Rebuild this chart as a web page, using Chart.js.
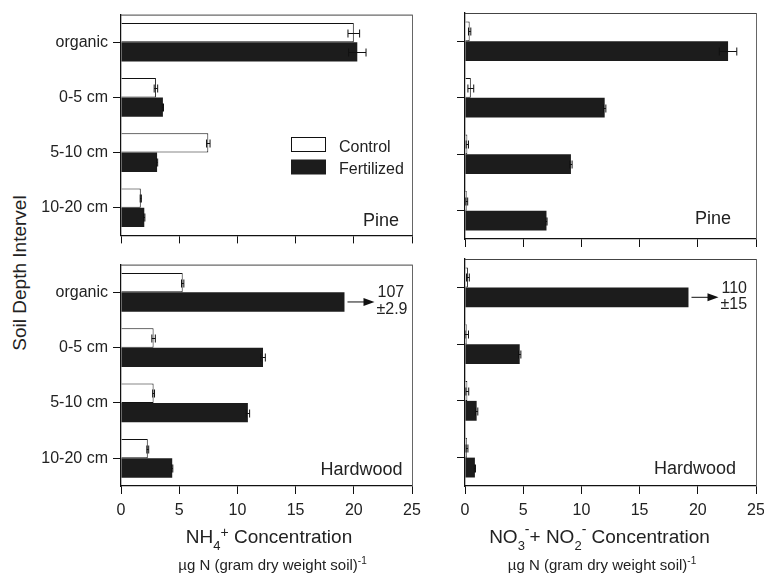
<!DOCTYPE html>
<html>
<head>
<meta charset="utf-8">
<script src="https://cdn.jsdelivr.net/npm/chart.js@4.4.1/dist/chart.umd.min.js"></script>
<style>
  html, body { margin: 0; padding: 0; background: #fff; width: 764px; height: 574px; overflow: hidden; }
  #wrap { position: relative; width: 764px; height: 574px; }
  canvas { position: absolute; }
  #ylab {
    position: absolute; left: 20px; top: 273px;
    transform: translate(-50%, -50%) rotate(-90deg);
    font: 19px "Liberation Sans", Arial, sans-serif; color: #222; white-space: nowrap;
  }
</style>
</head>
<body>
<div id="wrap">
  <div id="ylab">Soil Depth Intervel</div>
  <canvas id="tl" width="440" height="250" style="left:0;top:0"></canvas>
  <canvas id="tr" width="340" height="250" style="left:440px;top:0"></canvas>
  <canvas id="bl" width="440" height="324" style="left:0;top:250px"></canvas>
  <canvas id="br" width="340" height="324" style="left:440px;top:250px"></canvas>
</div>
<script>
const depths = ['organic', '0-5 cm', '5-10 cm', '10-20 cm']
const seriesNames = ['Control', 'Fertilized']
const xMax = 25
const xStep = 5

// pine, NH4+
const pineNH4Control = [20.0, 3.0, 7.5, 1.7]
const pineNH4ControlErr = [0.5, 0.15, 0.15, 0.05]
const pineNH4Fert = [20.3, 3.6, 3.1, 2.0]
const pineNH4FertErr = [0.75, 0.05, 0.05, 0.05]

// pine, NO3- + NO2-
const pineNO3Control = [0.4, 0.5, 0.2, 0.15]
const pineNO3ControlErr = [0.1, 0.25, 0.1, 0.08]
const pineNO3Fert = [22.6, 12.0, 9.1, 7.0]
const pineNO3FertErr = [0.75, 0.1, 0.1, 0.05]

// hardwood, NH4+ (organic fertilized bar runs off scale)
const hwNH4Control = [5.3, 2.8, 2.8, 2.3]
const hwNH4ControlErr = [0.1, 0.15, 0.08, 0.08]
const hwNH4Fert = [19.2, 12.2, 10.9, 4.4]
const hwNH4FertErr = [null, 0.2, 0.15, 0.05]
const hwNH4OffScale = ['107', '\u00b12.9']

// hardwood, NO3- + NO2-
const hwNO3Control = [0.25, 0.15, 0.2, 0.17]
const hwNO3ControlErr = [0.12, 0.15, 0.12, 0.08]
const hwNO3Fert = [19.2, 4.7, 1.0, 0.85]
const hwNO3FertErr = [null, 0.1, 0.1, 0.05]
const hwNO3OffScale = ['110', '\u00b115']

const FONT = '"Liberation Sans", Arial, sans-serif'
const INK = '#222'
Chart.defaults.font.family = FONT
Chart.defaults.color = INK

function font(size) { return size + 'px ' + FONT }

// draws text made of pieces with sub/superscripts, centred on cx
function drawPieces(ctx, pieces, cx, base) {
  let total = 0
  pieces.forEach(p => { ctx.font = font(p.s); total += ctx.measureText(p.t).width })
  let x = cx - total / 2
  ctx.textAlign = 'left'
  ctx.textBaseline = 'alphabetic'
  pieces.forEach(p => {
    ctx.font = font(p.s)
    ctx.fillText(p.t, x, base + (p.dy || 0))
    x += ctx.measureText(p.t).width
  })
}

const panelDecor = {
  id: 'panelDecor',
  afterDatasetsDraw(chart, args, opts) {
    const ctx = chart.ctx
    const area = chart.chartArea
    const xs = chart.scales.x
    ctx.save()

    // top and right frame
    ctx.lineWidth = 1
    ctx.strokeStyle = '#444'
    ctx.beginPath()
    ctx.moveTo(area.left, area.top + 0.5)
    ctx.lineTo(area.right, area.top + 0.5)
    ctx.stroke()
    ctx.strokeStyle = '#666'
    ctx.beginPath()
    ctx.moveTo(area.right + 0.5, area.top)
    ctx.lineTo(area.right + 0.5, area.bottom)
    ctx.stroke()

    // error bars
    ctx.strokeStyle = '#111'
    chart.data.datasets.forEach((ds, di) => {
      const meta = chart.getDatasetMeta(di)
      meta.data.forEach((bar, i) => {
        const e = opts.errors[di][i]
        if (e == null) return
        const v = ds.data[i]
        const x1 = xs.getPixelForValue(Math.max(v - e, 0))
        const x2 = xs.getPixelForValue(v + e)
        const y = Math.round(bar.y) + 0.5
        ctx.beginPath()
        ctx.moveTo(x1, y); ctx.lineTo(x2, y)
        ctx.moveTo(x1, y - 4); ctx.lineTo(x1, y + 4)
        ctx.moveTo(x2, y - 4); ctx.lineTo(x2, y + 4)
        ctx.stroke()
      })
    })

    // off-scale value with arrow
    if (opts.offScale) {
      const bar = chart.getDatasetMeta(1).data[0]
      const y = bar.y
      const x0 = bar.x + 3
      const x1 = x0 + 27
      ctx.strokeStyle = '#111'
      ctx.fillStyle = '#111'
      ctx.beginPath()
      ctx.moveTo(x0, y); ctx.lineTo(x1 - 8, y)
      ctx.stroke()
      ctx.beginPath()
      ctx.moveTo(x1, y); ctx.lineTo(x1 - 11, y - 4); ctx.lineTo(x1 - 11, y + 4)
      ctx.closePath(); ctx.fill()
      ctx.fillStyle = INK
      ctx.font = font(16)
      ctx.textAlign = 'left'
      ctx.textBaseline = 'alphabetic'
      ctx.fillText(opts.offScale[0], x1 + 3, y - 4.5)
      ctx.fillText(opts.offScale[1], x1 + 2, y + 12)
    }

    // panel name
    ctx.fillStyle = INK
    ctx.font = font(18)
    ctx.textAlign = 'right'
    ctx.textBaseline = 'alphabetic'
    ctx.fillText(opts.name, area.right - opts.nameDx, area.bottom - opts.nameDy)

    // legend
    if (opts.legend) {
      const colors = chart.data.datasets.map(d => d.backgroundColor)
      seriesNames.forEach((n, i) => {
        const y = 137 + i * 22.5
        ctx.fillStyle = colors[i]
        ctx.fillRect(291, y, 35, 15)
        if (i === 0) {
          ctx.strokeStyle = '#111'
          ctx.strokeRect(291.5, y + 0.5, 34, 14)
        }
        ctx.fillStyle = INK
        ctx.font = font(16)
        ctx.textAlign = 'left'
        ctx.fillText(n, 339, y + 14.5)
      })
    }

    // axis titles
    if (opts.title) {
      const cx = (area.left + area.right) / 2
      ctx.fillStyle = INK
      drawPieces(ctx, opts.title, cx + opts.titleDx, area.bottom + 57)
      drawPieces(ctx, [{ t: '\u00b5g N (gram dry weight soil)', s: 15 }, { t: '-1', s: 10, dy: -6 }],
        cx + opts.subDx, area.bottom + 84)
    }
    ctx.restore()
  }
}

function makePanel(id, control, fert, cfg) {
  const canvas = document.getElementById(id)
  return new Chart(canvas.getContext('2d'), {
    type: 'bar',
    data: {
      labels: depths,
      datasets: [
        { label: seriesNames[0], data: control, backgroundColor: '#ffffff', borderColor: '#111', borderWidth: 1 },
        { label: seriesNames[1], data: fert, backgroundColor: '#1c1c1c', borderWidth: 0 }
      ]
    },
    options: {
      indexAxis: 'y',
      responsive: false,
      animation: false,
      events: [],
      categoryPercentage: 0.7,
      barPercentage: 1.0,
      layout: { padding: { top: cfg.padTop, right: cfg.padRight, left: 0, bottom: 0 } },
      scales: {
        x: {
          min: 0,
          max: xMax,
          ticks: { stepSize: xStep, display: cfg.xLabels, font: { size: 16 }, color: INK, padding: 7 },
          grid: { drawOnChartArea: false, tickLength: 8, color: '#111' },
          border: { display: true, color: '#111', width: 1.3 },
          afterFit: s => { s.height = cfg.xHeight }
        },
        y: {
          ticks: { display: cfg.yLabels, font: { size: 16 }, color: INK, padding: 5 },
          grid: { drawOnChartArea: false, tickLength: 8, color: '#111', offset: false },
          border: { display: true, color: '#111', width: 1.3 },
          afterFit: s => { s.width = cfg.yWidth }
        }
      },
      plugins: {
        legend: { display: false },
        tooltip: { enabled: false },
        panelDecor: cfg.decor
      }
    },
    plugins: [panelDecor]
  })
}

const nh4Title = [{ t: 'NH', s: 19 }, { t: '4', s: 13, dy: 7 }, { t: '+', s: 14, dy: -6 }, { t: ' Concentration', s: 19 }]
const no3Title = [
  { t: 'NO', s: 19 }, { t: '3', s: 13, dy: 7 }, { t: '-', s: 14, dy: -9 },
  { t: '+ NO', s: 19 }, { t: '2', s: 13, dy: 7 }, { t: '-', s: 14, dy: -9 },
  { t: ' Concentration', s: 19 }
]

makePanel('tl', pineNH4Control, pineNH4Fert, {
  padTop: 13, padRight: 28, xHeight: 11, yWidth: 121, xLabels: false, yLabels: true,
  decor: { errors: [pineNH4ControlErr, pineNH4FertErr], name: 'Pine', nameDx: 13, nameDy: 9, legend: true }
})
makePanel('tr', pineNO3Control, pineNO3Fert, {
  padTop: 13, padRight: 24, xHeight: 11, yWidth: 25, xLabels: false, yLabels: false,
  decor: { errors: [pineNO3ControlErr, pineNO3FertErr], name: 'Pine', nameDx: 25, nameDy: 15.5 }
})
makePanel('bl', hwNH4Control, hwNH4Fert, {
  padTop: 9, padRight: 28, xHeight: 88, yWidth: 121, xLabels: true, yLabels: true,
  decor: {
    errors: [hwNH4ControlErr, hwNH4FertErr], name: 'Hardwood', nameDx: 9.5, nameDy: 11,
    offScale: hwNH4OffScale, title: nh4Title, titleDx: 2.5, subDx: 6
  }
})
makePanel('br', hwNO3Control, hwNO3Fert, {
  padTop: 9, padRight: 24, xHeight: 88, yWidth: 25, xLabels: true, yLabels: false,
  decor: {
    errors: [hwNO3ControlErr, hwNO3FertErr], name: 'Hardwood', nameDx: 20, nameDy: 12.5,
    offScale: hwNO3OffScale, title: no3Title, titleDx: -11, subDx: -8.5
  }
})
</script>
</body>
</html>
